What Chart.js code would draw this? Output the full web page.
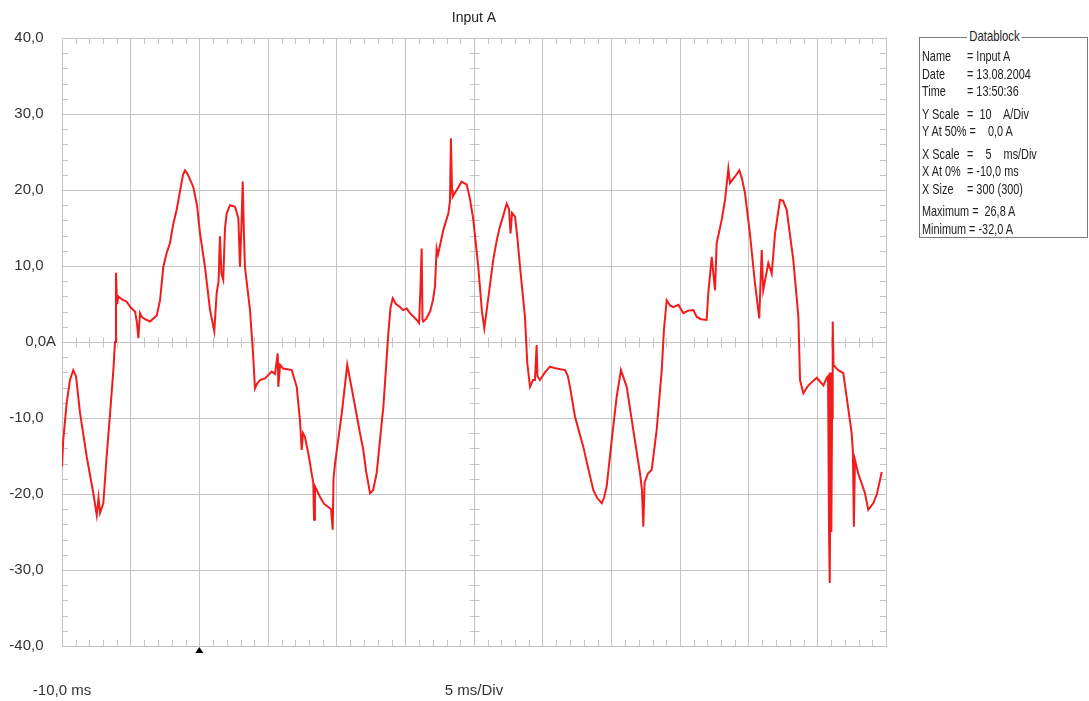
<!DOCTYPE html>
<html>
<head>
<meta charset="utf-8">
<title>Input A</title>
<script src="https://cdn.jsdelivr.net/npm/chart.js@4.4.1/dist/chart.umd.min.js"></script>
<style>
  body { margin: 0; background: #fff; }
  #wrap { position: relative; width: 1089px; height: 701px; }
  #datablock {
    position: absolute; left: 919px; top: 37px; width: 169px; height: 201px;
    border: 1px solid #7a7a7a; box-shadow: inset 1px 1px 0 #fff;
    font: 14.5px "Liberation Sans", Arial, sans-serif;
    color: #222; box-sizing: border-box;
  }
  #datablock .legend {
    position: absolute; left: 47px; top: -10px; background: #fff; padding: 0 3px;
    transform: scaleX(0.78); transform-origin: left center;
  }
  #datablock .rows {
    position: absolute; left: 2px; top: 10px; width: 220px;
    transform: scaleX(0.75); transform-origin: left top;
  }
  #datablock .row { height: 17.5px; line-height: 17.5px; white-space: pre; }
  #datablock .row.gap { margin-top: 5px; }
  #datablock .lbl { display: inline-block; min-width: 56px; margin-right: 4px; }
</style>
</head>
<body>
<div id="wrap">
  <canvas id="chart"></canvas>
  <div id="datablock"><span class="legend">Datablock</span><div class="rows" id="rows"></div></div>
</div>
<script>
const timeMs = [
  -10.00, -9.91, -9.66, -9.42, -9.18, -8.98, -8.69, -8.20, -7.72, -7.47,
  -7.34, -7.23, -6.99, -6.75, -6.50, -6.26, -6.14, -6.07, -5.99, -5.90,
  -5.63, -5.29, -4.98, -4.68, -4.54, -4.44, -4.32, -4.20, -3.96, -3.59,
  -3.10, -2.86, -2.62, -2.38, -2.14, -1.90, -1.65, -1.41, -1.19, -1.04,
  -0.83, -0.44, -0.17, 0.05, 0.41, 0.78, 1.09, 1.26, 1.40, 1.50,
  1.61, 1.74, 1.87, 1.99, 2.23, 2.60, 2.84, 2.96, 3.07, 3.16,
  3.25, 3.32, 3.69, 3.91, 4.05, 4.20, 4.42, 4.78, 5.27, 5.51,
  5.71, 5.75, 5.88, 6.11, 6.73, 7.09, 7.33, 7.45, 7.55, 7.69,
  7.93, 8.30, 8.35, 8.42, 8.79, 9.08, 9.39, 9.59, 9.71, 9.77,
  9.88, 10.37, 10.77, 11.21, 11.70, 11.94, 12.14, 12.43, 12.65, 12.91,
  13.15, 13.40, 13.59, 13.76, 13.92, 14.08, 14.32, 14.61, 14.83, 15.10,
  15.34, 15.83, 16.00, 16.10, 16.19, 16.25, 16.31, 16.50, 16.80, 17.01,
  17.16, 17.28, 17.38, 17.76, 18.13, 18.25, 18.32, 18.40, 18.45, 18.74,
  19.10, 19.47, 19.71, 19.95, 20.31, 20.58, 20.75, 21.02, 21.40, 21.67,
  21.89, 22.11, 22.38, 22.55, 22.66, 22.77, 22.99, 23.17, 23.35, 23.71,
  23.88, 24.08, 24.30, 24.44, 24.56, 24.62, 24.80, 25.17, 25.53, 26.02,
  26.63, 26.84, 26.99, 27.35, 27.96, 28.30, 28.69, 28.96, 29.30, 29.47,
  29.66, 30.03, 30.39, 30.70, 31.12, 31.60, 32.09, 32.23, 32.33, 32.42,
  32.67, 32.94, 33.30, 33.67, 33.83, 34.03, 34.27, 34.51, 34.88, 35.24,
  35.58, 35.97, 36.22, 36.53, 36.94, 37.06, 37.31, 37.55, 37.67, 38.04,
  38.28, 38.52, 38.64, 39.00, 39.32, 39.51, 39.73, 40.09, 40.46, 40.77,
  40.95, 41.06, 41.43, 41.68, 41.92, 42.28, 42.50, 42.77, 43.25, 43.62,
  43.74, 43.98, 44.35, 44.96, 45.44, 45.69, 45.78, 45.85, 45.89, 45.92,
  45.98, 46.02, 46.07, 46.12, 46.18, 46.28, 46.52, 46.89, 47.13, 47.50,
  47.59, 47.66, 47.74, 47.98, 48.47, 48.71, 49.08, 49.34, 49.69
];
const currentA = [
  -16.4, -12.9, -8.0, -5.0, -3.7, -4.5, -9.3, -15.1, -19.9, -22.8,
  -20.5, -22.5, -21.2, -15.1, -9.4, -3.7, 0.0, 9.1, 5.0, 6.0,
  5.6, 5.3, 4.5, 4.0, 2.5, 0.5, 3.8, 3.3, 3.0, 2.7,
  3.5, 5.5, 9.9, 11.7, 13.0, 15.5, 17.4, 19.8, 22.0, 22.6,
  22.0, 20.4, 18.0, 14.3, 9.9, 4.2, 1.4, 6.4, 8.0, 13.9,
  9.0, 8.2, 15.0, 16.9, 18.0, 17.8, 16.3, 9.9, 15.5, 21.1,
  14.0, 9.9, 4.2, -1.5, -6.1, -5.5, -5.0, -4.8, -3.9, -4.2,
  -1.5, -5.9, -3.0, -3.5, -3.7, -5.9, -10.3, -14.2, -12.0, -12.5,
  -14.6, -18.6, -23.4, -19.0, -20.4, -21.3, -21.7, -22.0, -24.7, -18.0,
  -16.0, -9.4, -3.0, -7.2, -12.0, -14.2, -17.0, -19.9, -19.5, -17.3,
  -13.0, -8.5, -3.5, 1.1, 4.5, 5.75, 5.0, 4.6, 4.2, 4.4,
  3.8, 2.9, 2.5, 7.0, 12.3, 3.0, 2.7, 3.0, 4.0, 5.5,
  7.3, 12.3, 11.5, 14.7, 16.9, 18.5, 26.8, 20.0, 19.1, 20.0,
  21.1, 20.7, 18.8, 16.1, 9.9, 4.0, 1.8, 5.5, 10.8, 13.5,
  15.2, 16.5, 18.2, 17.5, 14.3, 17.0, 16.5, 13.5, 9.9, 3.3,
  -2.8, -5.9, -5.0, -5.0, -0.4, -4.5, -5.0, -4.0, -3.25, -3.5,
  -3.7, -4.5, -5.9, -9.8, -13.8, -16.5, -19.5, -20.5, -21.2, -20.5,
  -19.0, -12.9, -7.2, -3.7, -5.9, -11.6, -17.3, -19.5, -24.3, -18.5,
  -17.3, -16.8, -11.6, -3.7, 1.6, 5.5, 4.8, 4.6, 4.9, 3.8,
  4.1, 4.2, 3.3, 3.0, 2.9, 6.4, 11.2, 6.8, 13.0, 16.1,
  18.7, 22.8, 20.9, 21.75, 22.6, 21.5, 19.6, 14.3, 7.7, 3.1,
  12.1, 6.8, 10.4, 9.0, 14.3, 18.7, 18.6, 17.4, 10.8, 3.3,
  -5.0, -6.75, -5.7, -4.7, -5.7, -4.7, -4.5, -24.7, -4.0, -31.7,
  -4.0, -25.0, -10.0, 2.7, -3.0, -3.25, -3.7, -4.1, -7.2, -12.0,
  -14.5, -24.3, -15.5, -17.3, -19.9, -22.1, -21.2, -20.0, -17.1
];

// Achsenbeschriftungen
const xLabelValues = [-10, 20];
const xLabelTexts = ['-10,0 ms', '5 ms/Div'];
const triggerAtMs = 0;

// Datenblock rechts
const blockLabels = ['Name', 'Date', 'Time', 'Y Scale', 'Y At 50%', 'X Scale', 'X At 0%', 'X Size', 'Maximum', 'Minimum'];
const blockValues = ['= Input A', '= 13.08.2004', '= 13:50:36', '=  10    A/Div', '=    0,0 A', '=    5    ms/Div', '= -10,0 ms', '= 300 (300)', '=  26,8 A', '= -32,0 A'];
const blockGroupStarts = [3, 5, 8];

const FONT = '"Liberation Sans", Arial, sans-serif';
const GRID = '#c4c4c4';

// Datenblock aufbauen
const rows = document.getElementById('rows');
blockLabels.forEach((lbl, i) => {
    const row = document.createElement('div');
    row.className = blockGroupStarts.includes(i) ? 'row gap' : 'row';
    const l = document.createElement('span');
    l.className = 'lbl';
    l.textContent = lbl;
    row.appendChild(l);
    row.appendChild(document.createTextNode(blockValues[i]));
    rows.appendChild(row);
});

function yLabel(v) {
    if (v === 0) return '0,0A';
    return v.toFixed(1).replace('.', ',') + '\u2007\u2008';
}

function xLabel(v) {
    const i = xLabelValues.indexOf(v);
    return i >= 0 ? xLabelTexts[i] : '';
}

// Kleine Teilstriche wie beim Oszilloskop
const minorTicks = {
    id: 'minorTicks',
    beforeDatasetsDraw(chart) {
        const { ctx, chartArea: a, scales: { x, y } } = chart;
        ctx.save();
        ctx.strokeStyle = GRID;
        ctx.lineWidth = 1;
        ctx.beginPath();
        const y0 = Math.round(y.getPixelForValue(0)) + 0.5;
        const xc = Math.round(x.getPixelForValue(20)) + 0.5;
        for (let t = x.min + 1; t < x.max; t += 1) {
            if (t % 5 === 0) continue;
            const px = Math.round(x.getPixelForValue(t)) + 0.5;
            ctx.moveTo(px, a.top); ctx.lineTo(px, a.top + 6);
            ctx.moveTo(px, a.bottom); ctx.lineTo(px, a.bottom - 6);
            ctx.moveTo(px, y0 - 5); ctx.lineTo(px, y0 + 5);
        }
        for (let v = y.min + 2; v < y.max; v += 2) {
            if (v % 10 === 0) continue;
            const py = Math.round(y.getPixelForValue(v)) + 0.5;
            ctx.moveTo(a.left, py); ctx.lineTo(a.left + 6, py);
            ctx.moveTo(a.right, py); ctx.lineTo(a.right - 6, py);
            ctx.moveTo(xc - 5, py); ctx.lineTo(xc + 5, py);
        }
        ctx.stroke();
        ctx.restore();
    },
    afterDraw(chart) {
        const { ctx, chartArea: a, scales: { x } } = chart;
        const px = x.getPixelForValue(triggerAtMs);
        ctx.save();
        ctx.fillStyle = '#000';
        ctx.beginPath();
        ctx.moveTo(px, a.bottom + 1);
        ctx.lineTo(px - 4, a.bottom + 7);
        ctx.lineTo(px + 4, a.bottom + 7);
        ctx.closePath();
        ctx.fill();
        ctx.restore();
    }
};

new Chart(document.getElementById('chart'), {
    type: 'line',
    data: {
        datasets: [{
            label: 'Input A',
            data: timeMs.map((t, i) => ({ x: t, y: currentA[i] })),
            borderColor: '#f21c1c',
            borderWidth: 2,
            pointRadius: 0,
            tension: 0,
            fill: false
        }]
    },
    options: {
        responsive: true,
        maintainAspectRatio: false,
        animation: false,
        layout: { padding: { left: 0, right: 203, top: 0, bottom: 0 } },
        plugins: {
            legend: { display: false },
            tooltip: { enabled: false },
            title: {
                display: true,
                fullSize: false,
                text: 'Input A',
                color: '#222',
                font: { family: FONT, size: 14, weight: 'normal' },
                padding: { top: 9.5, bottom: 11.7 }
            }
        },
        scales: {
            x: {
                type: 'linear',
                min: -10,
                max: 50,
                afterFit(s) { s.height = 55; },
                ticks: {
                    stepSize: 5,
                    autoSkip: false,
                    maxRotation: 0,
                    padding: 0,
                    color: '#333',
                    font: { family: FONT, size: 15 },
                    callback: v => xLabel(v)
                },
                grid: { color: GRID, drawTicks: true, tickLength: 36, tickColor: 'rgba(0,0,0,0)' },
                border: { color: GRID }
            },
            y: {
                type: 'linear',
                min: -40,
                max: 40,
                afterFit(s) { s.width = 62; },
                ticks: {
                    stepSize: 10,
                    padding: 6,
                    color: '#333',
                    font: { family: FONT, size: 15 },
                    callback: v => yLabel(v)
                },
                grid: { color: GRID, drawTicks: false },
                border: { color: GRID }
            }
        }
    },
    plugins: [minorTicks]
});
</script>
</body>
</html>
